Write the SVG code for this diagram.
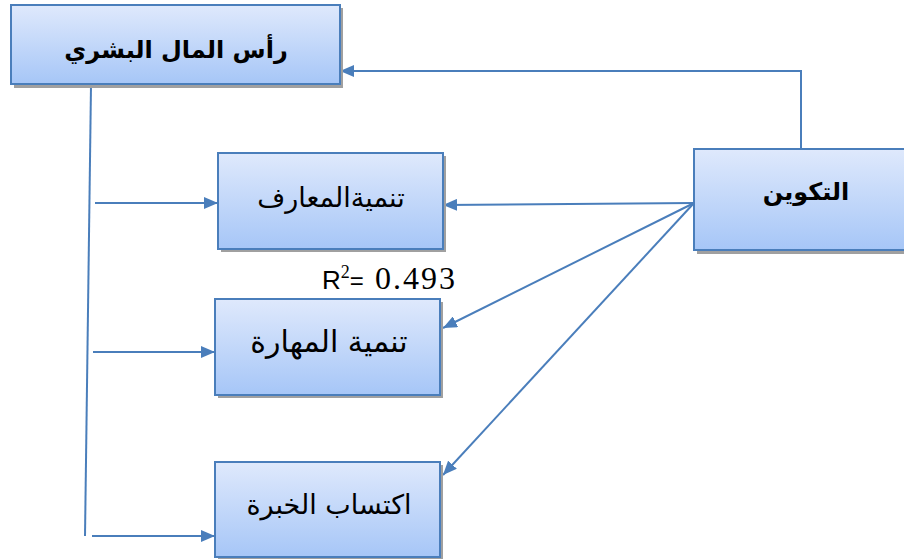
<svg xmlns="http://www.w3.org/2000/svg" width="904" height="559" viewBox="0 0 904 559">
<defs>
<linearGradient id="g" x1="0" y1="0" x2="0" y2="1">
<stop offset="0" stop-color="#dfe9fc"/>
<stop offset="1" stop-color="#a6c6f7"/>
</linearGradient>
<marker id="ah" markerWidth="14" markerHeight="12" refX="14" refY="6" orient="auto" markerUnits="userSpaceOnUse">
<path d="M0,0 L14,6 L0,12 Z" fill="#4a7ebb"/>
</marker>
<style>
.box{fill:url(#g);stroke:#4a7ebb;stroke-width:2}
.sh{fill:#a0a0a0}
.ln{fill:none;stroke:#4a7ebb;stroke-width:2}
.ar{font-family:"DejaVu Sans",sans-serif;text-anchor:middle;fill:#000}
.t1{font-size:24px;font-weight:bold}
.t2{font-size:27px}
.rs{font-family:"Liberation Sans",Arial,sans-serif}
.rf{font-family:"Liberation Serif","Times New Roman","DejaVu Serif",serif}
</style>
</defs>
<rect width="904" height="559" fill="#fff"/>
<g id="connectors">
<polyline class="ln" points="801,149 801,71 340,71" marker-end="url(#ah)"/>
<line class="ln" x1="91" y1="85" x2="85" y2="536"/>
<line class="ln" x1="95" y1="203" x2="218" y2="203" marker-end="url(#ah)"/>
<line class="ln" x1="93" y1="352" x2="215" y2="352" marker-end="url(#ah)"/>
<line class="ln" x1="92" y1="536" x2="215" y2="536" marker-end="url(#ah)"/>
<line class="ln" x1="694" y1="203" x2="443" y2="205" marker-end="url(#ah)"/>
<line class="ln" x1="694" y1="203" x2="443" y2="328" marker-end="url(#ah)"/>
<line class="ln" x1="694" y1="203" x2="443" y2="475" marker-end="url(#ah)"/>
</g>
<g id="n-capital">
<rect class="sh" x="14" y="8" width="329" height="80"/>
<rect class="box" x="11" y="5" width="329" height="79"/>
<text class="ar t1" x="176" y="58">رأس المال البشري</text>
</g>
<g id="n-takwin">
<rect class="sh" x="697" y="152" width="220" height="102"/>
<rect class="box" x="694" y="149" width="220" height="101"/>
<text class="ar t1" x="806" y="200">التكوين</text>
</g>
<g id="n-knowledge">
<rect class="sh" x="221" y="156" width="225" height="96"/>
<rect class="box" x="218" y="153" width="225" height="96"/>
<text class="ar t2" x="331" y="207">تنميةالمعارف</text>
</g>
<g id="n-skill">
<rect class="sh" x="218" y="302" width="225" height="96"/>
<rect class="box" x="215" y="299" width="225" height="96"/>
<text class="ar t2" x="329" y="352" style="font-size:30px">تنمية المهارة</text>
</g>
<g id="n-experience">
<rect class="sh" x="218" y="465" width="225" height="96"/>
<rect class="box" x="215" y="462" width="225" height="95"/>
<text class="ar t2" x="329" y="514">اكتساب الخبرة</text>
</g>
<g id="label-r2">
<text x="322" y="289" fill="#000" style="font-size:26px"><tspan class="rs">R</tspan><tspan class="rf" style="font-size:18px" dy="-11">2</tspan><tspan class="rs" style="font-size:24px" dy="11">=</tspan><tspan class="rf" style="font-size:32px;letter-spacing:2px" x="375">0.493</tspan></text>
</g>
</svg>
